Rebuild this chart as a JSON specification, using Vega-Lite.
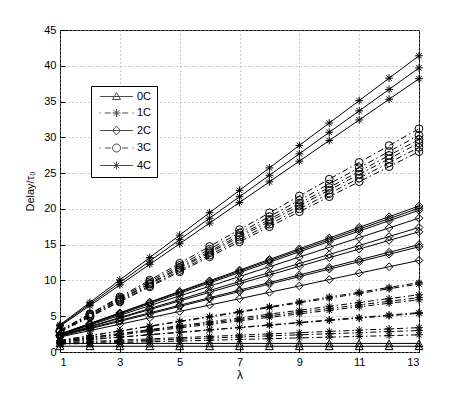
{
"$schema":"https://vega.github.io/schema/vega-lite/v6.json",
"width":359,"height":322,
"autosize":{"type":"none"},
"padding":{"left":60,"top":30,"right":44,"bottom":44},
"background":"white",
"config":{"view":{"stroke":"black","strokeWidth":1},"font":"Liberation Sans"},
"data":{"values":[
{"g":"0C","id":"0a","x":1,"y":1.2},{"g":"0C","id":"0a","x":2,"y":1.2},{"g":"0C","id":"0a","x":3,"y":1.2},{"g":"0C","id":"0a","x":4,"y":1.2},{"g":"0C","id":"0a","x":5,"y":1.2},{"g":"0C","id":"0a","x":6,"y":1.2},{"g":"0C","id":"0a","x":7,"y":1.2},{"g":"0C","id":"0a","x":8,"y":1.2},{"g":"0C","id":"0a","x":9,"y":1.2},{"g":"0C","id":"0a","x":10,"y":1.2},{"g":"0C","id":"0a","x":11,"y":1.2},{"g":"0C","id":"0a","x":12,"y":1.2},{"g":"0C","id":"0a","x":13,"y":1.2},
{"g":"0C","id":"0b","x":1,"y":0.8},{"g":"0C","id":"0b","x":2,"y":0.8},{"g":"0C","id":"0b","x":3,"y":0.8},{"g":"0C","id":"0b","x":4,"y":0.8},{"g":"0C","id":"0b","x":5,"y":0.8},{"g":"0C","id":"0b","x":6,"y":0.8},{"g":"0C","id":"0b","x":7,"y":0.8},{"g":"0C","id":"0b","x":8,"y":0.8},{"g":"0C","id":"0b","x":9,"y":0.8},{"g":"0C","id":"0b","x":10,"y":0.8},{"g":"0C","id":"0b","x":11,"y":0.8},{"g":"0C","id":"0b","x":12,"y":0.8},{"g":"0C","id":"0b","x":13,"y":0.8},
{"g":"1C","id":"1a","x":1,"y":1.6},{"g":"1C","id":"1a","x":2,"y":2.28},{"g":"1C","id":"1a","x":3,"y":2.95},{"g":"1C","id":"1a","x":4,"y":3.63},{"g":"1C","id":"1a","x":5,"y":4.3},{"g":"1C","id":"1a","x":6,"y":4.98},{"g":"1C","id":"1a","x":7,"y":5.65},{"g":"1C","id":"1a","x":8,"y":6.33},{"g":"1C","id":"1a","x":9,"y":7.0},{"g":"1C","id":"1a","x":10,"y":7.68},{"g":"1C","id":"1a","x":11,"y":8.35},{"g":"1C","id":"1a","x":12,"y":9.03},{"g":"1C","id":"1a","x":13,"y":9.7},
{"g":"1C","id":"1a2","x":1,"y":1.6},{"g":"1C","id":"1a2","x":2,"y":2.26},{"g":"1C","id":"1a2","x":3,"y":2.92},{"g":"1C","id":"1a2","x":4,"y":3.58},{"g":"1C","id":"1a2","x":5,"y":4.23},{"g":"1C","id":"1a2","x":6,"y":4.89},{"g":"1C","id":"1a2","x":7,"y":5.55},{"g":"1C","id":"1a2","x":8,"y":6.21},{"g":"1C","id":"1a2","x":9,"y":6.87},{"g":"1C","id":"1a2","x":10,"y":7.52},{"g":"1C","id":"1a2","x":11,"y":8.18},{"g":"1C","id":"1a2","x":12,"y":8.84},{"g":"1C","id":"1a2","x":13,"y":9.5},
{"g":"1C","id":"1b","x":1,"y":1.5},{"g":"1C","id":"1b","x":2,"y":2.04},{"g":"1C","id":"1b","x":3,"y":2.58},{"g":"1C","id":"1b","x":4,"y":3.13},{"g":"1C","id":"1b","x":5,"y":3.67},{"g":"1C","id":"1b","x":6,"y":4.21},{"g":"1C","id":"1b","x":7,"y":4.75},{"g":"1C","id":"1b","x":8,"y":5.29},{"g":"1C","id":"1b","x":9,"y":5.83},{"g":"1C","id":"1b","x":10,"y":6.38},{"g":"1C","id":"1b","x":11,"y":6.92},{"g":"1C","id":"1b","x":12,"y":7.46},{"g":"1C","id":"1b","x":13,"y":8.0},
{"g":"1C","id":"1c","x":1,"y":1.5},{"g":"1C","id":"1c","x":2,"y":2.01},{"g":"1C","id":"1c","x":3,"y":2.52},{"g":"1C","id":"1c","x":4,"y":3.03},{"g":"1C","id":"1c","x":5,"y":3.53},{"g":"1C","id":"1c","x":6,"y":4.04},{"g":"1C","id":"1c","x":7,"y":4.55},{"g":"1C","id":"1c","x":8,"y":5.06},{"g":"1C","id":"1c","x":9,"y":5.57},{"g":"1C","id":"1c","x":10,"y":6.08},{"g":"1C","id":"1c","x":11,"y":6.58},{"g":"1C","id":"1c","x":12,"y":7.09},{"g":"1C","id":"1c","x":13,"y":7.6},
{"g":"1C","id":"1d","x":1,"y":1.4},{"g":"1C","id":"1d","x":2,"y":1.89},{"g":"1C","id":"1d","x":3,"y":2.38},{"g":"1C","id":"1d","x":4,"y":2.88},{"g":"1C","id":"1d","x":5,"y":3.37},{"g":"1C","id":"1d","x":6,"y":3.86},{"g":"1C","id":"1d","x":7,"y":4.35},{"g":"1C","id":"1d","x":8,"y":4.84},{"g":"1C","id":"1d","x":9,"y":5.33},{"g":"1C","id":"1d","x":10,"y":5.83},{"g":"1C","id":"1d","x":11,"y":6.32},{"g":"1C","id":"1d","x":12,"y":6.81},{"g":"1C","id":"1d","x":13,"y":7.3},
{"g":"1C","id":"1e","x":1,"y":1.4},{"g":"1C","id":"1e","x":2,"y":1.74},{"g":"1C","id":"1e","x":3,"y":2.08},{"g":"1C","id":"1e","x":4,"y":2.43},{"g":"1C","id":"1e","x":5,"y":2.77},{"g":"1C","id":"1e","x":6,"y":3.11},{"g":"1C","id":"1e","x":7,"y":3.45},{"g":"1C","id":"1e","x":8,"y":3.79},{"g":"1C","id":"1e","x":9,"y":4.13},{"g":"1C","id":"1e","x":10,"y":4.48},{"g":"1C","id":"1e","x":11,"y":4.82},{"g":"1C","id":"1e","x":12,"y":5.16},{"g":"1C","id":"1e","x":13,"y":5.5},
{"g":"1C","id":"1e2","x":1,"y":1.4},{"g":"1C","id":"1e2","x":2,"y":1.73},{"g":"1C","id":"1e2","x":3,"y":2.07},{"g":"1C","id":"1e2","x":4,"y":2.4},{"g":"1C","id":"1e2","x":5,"y":2.73},{"g":"1C","id":"1e2","x":6,"y":3.07},{"g":"1C","id":"1e2","x":7,"y":3.4},{"g":"1C","id":"1e2","x":8,"y":3.73},{"g":"1C","id":"1e2","x":9,"y":4.07},{"g":"1C","id":"1e2","x":10,"y":4.4},{"g":"1C","id":"1e2","x":11,"y":4.73},{"g":"1C","id":"1e2","x":12,"y":5.07},{"g":"1C","id":"1e2","x":13,"y":5.4},
{"g":"1C","id":"1f","x":1,"y":1.3},{"g":"1C","id":"1f","x":2,"y":1.48},{"g":"1C","id":"1f","x":3,"y":1.65},{"g":"1C","id":"1f","x":4,"y":1.83},{"g":"1C","id":"1f","x":5,"y":2.0},{"g":"1C","id":"1f","x":6,"y":2.18},{"g":"1C","id":"1f","x":7,"y":2.35},{"g":"1C","id":"1f","x":8,"y":2.53},{"g":"1C","id":"1f","x":9,"y":2.7},{"g":"1C","id":"1f","x":10,"y":2.88},{"g":"1C","id":"1f","x":11,"y":3.05},{"g":"1C","id":"1f","x":12,"y":3.23},{"g":"1C","id":"1f","x":13,"y":3.4},
{"g":"1C","id":"1g","x":1,"y":1.2},{"g":"1C","id":"1g","x":2,"y":1.35},{"g":"1C","id":"1g","x":3,"y":1.5},{"g":"1C","id":"1g","x":4,"y":1.65},{"g":"1C","id":"1g","x":5,"y":1.8},{"g":"1C","id":"1g","x":6,"y":1.95},{"g":"1C","id":"1g","x":7,"y":2.1},{"g":"1C","id":"1g","x":8,"y":2.25},{"g":"1C","id":"1g","x":9,"y":2.4},{"g":"1C","id":"1g","x":10,"y":2.55},{"g":"1C","id":"1g","x":11,"y":2.7},{"g":"1C","id":"1g","x":12,"y":2.85},{"g":"1C","id":"1g","x":13,"y":3.0},
{"g":"1C","id":"1h","x":1,"y":1.1},{"g":"1C","id":"1h","x":2,"y":1.21},{"g":"1C","id":"1h","x":3,"y":1.32},{"g":"1C","id":"1h","x":4,"y":1.43},{"g":"1C","id":"1h","x":5,"y":1.53},{"g":"1C","id":"1h","x":6,"y":1.64},{"g":"1C","id":"1h","x":7,"y":1.75},{"g":"1C","id":"1h","x":8,"y":1.86},{"g":"1C","id":"1h","x":9,"y":1.97},{"g":"1C","id":"1h","x":10,"y":2.08},{"g":"1C","id":"1h","x":11,"y":2.18},{"g":"1C","id":"1h","x":12,"y":2.29},{"g":"1C","id":"1h","x":13,"y":2.4},
{"g":"2C","id":"2a","x":1,"y":2.5},{"g":"2C","id":"2a","x":2,"y":3.99},{"g":"2C","id":"2a","x":3,"y":5.48},{"g":"2C","id":"2a","x":4,"y":6.98},{"g":"2C","id":"2a","x":5,"y":8.47},{"g":"2C","id":"2a","x":6,"y":9.96},{"g":"2C","id":"2a","x":7,"y":11.45},{"g":"2C","id":"2a","x":8,"y":12.94},{"g":"2C","id":"2a","x":9,"y":14.43},{"g":"2C","id":"2a","x":10,"y":15.93},{"g":"2C","id":"2a","x":11,"y":17.42},{"g":"2C","id":"2a","x":12,"y":18.91},{"g":"2C","id":"2a","x":13,"y":20.4},
{"g":"2C","id":"2b","x":1,"y":2.5},{"g":"2C","id":"2b","x":2,"y":3.97},{"g":"2C","id":"2b","x":3,"y":5.43},{"g":"2C","id":"2b","x":4,"y":6.9},{"g":"2C","id":"2b","x":5,"y":8.37},{"g":"2C","id":"2b","x":6,"y":9.83},{"g":"2C","id":"2b","x":7,"y":11.3},{"g":"2C","id":"2b","x":8,"y":12.77},{"g":"2C","id":"2b","x":9,"y":14.23},{"g":"2C","id":"2b","x":10,"y":15.7},{"g":"2C","id":"2b","x":11,"y":17.17},{"g":"2C","id":"2b","x":12,"y":18.63},{"g":"2C","id":"2b","x":13,"y":20.1},
{"g":"2C","id":"2c","x":1,"y":2.4},{"g":"2C","id":"2c","x":2,"y":3.85},{"g":"2C","id":"2c","x":3,"y":5.3},{"g":"2C","id":"2c","x":4,"y":6.75},{"g":"2C","id":"2c","x":5,"y":8.2},{"g":"2C","id":"2c","x":6,"y":9.65},{"g":"2C","id":"2c","x":7,"y":11.1},{"g":"2C","id":"2c","x":8,"y":12.55},{"g":"2C","id":"2c","x":9,"y":14.0},{"g":"2C","id":"2c","x":10,"y":15.45},{"g":"2C","id":"2c","x":11,"y":16.9},{"g":"2C","id":"2c","x":12,"y":18.35},{"g":"2C","id":"2c","x":13,"y":19.8},
{"g":"2C","id":"2d","x":1,"y":2.4},{"g":"2C","id":"2d","x":2,"y":3.76},{"g":"2C","id":"2d","x":3,"y":5.12},{"g":"2C","id":"2d","x":4,"y":6.48},{"g":"2C","id":"2d","x":5,"y":7.83},{"g":"2C","id":"2d","x":6,"y":9.19},{"g":"2C","id":"2d","x":7,"y":10.55},{"g":"2C","id":"2d","x":8,"y":11.91},{"g":"2C","id":"2d","x":9,"y":13.27},{"g":"2C","id":"2d","x":10,"y":14.63},{"g":"2C","id":"2d","x":11,"y":15.98},{"g":"2C","id":"2d","x":12,"y":17.34},{"g":"2C","id":"2d","x":13,"y":18.7},
{"g":"2C","id":"2e","x":1,"y":2.3},{"g":"2C","id":"2e","x":2,"y":3.56},{"g":"2C","id":"2e","x":3,"y":4.82},{"g":"2C","id":"2e","x":4,"y":6.08},{"g":"2C","id":"2e","x":5,"y":7.33},{"g":"2C","id":"2e","x":6,"y":8.59},{"g":"2C","id":"2e","x":7,"y":9.85},{"g":"2C","id":"2e","x":8,"y":11.11},{"g":"2C","id":"2e","x":9,"y":12.37},{"g":"2C","id":"2e","x":10,"y":13.63},{"g":"2C","id":"2e","x":11,"y":14.88},{"g":"2C","id":"2e","x":12,"y":16.14},{"g":"2C","id":"2e","x":13,"y":17.4},
{"g":"2C","id":"2i","x":1,"y":2.3},{"g":"2C","id":"2i","x":2,"y":3.51},{"g":"2C","id":"2i","x":3,"y":4.72},{"g":"2C","id":"2i","x":4,"y":5.93},{"g":"2C","id":"2i","x":5,"y":7.13},{"g":"2C","id":"2i","x":6,"y":8.34},{"g":"2C","id":"2i","x":7,"y":9.55},{"g":"2C","id":"2i","x":8,"y":10.76},{"g":"2C","id":"2i","x":9,"y":11.97},{"g":"2C","id":"2i","x":10,"y":13.18},{"g":"2C","id":"2i","x":11,"y":14.38},{"g":"2C","id":"2i","x":12,"y":15.59},{"g":"2C","id":"2i","x":13,"y":16.8},
{"g":"2C","id":"2f","x":1,"y":2.3},{"g":"2C","id":"2f","x":2,"y":3.36},{"g":"2C","id":"2f","x":3,"y":4.42},{"g":"2C","id":"2f","x":4,"y":5.48},{"g":"2C","id":"2f","x":5,"y":6.53},{"g":"2C","id":"2f","x":6,"y":7.59},{"g":"2C","id":"2f","x":7,"y":8.65},{"g":"2C","id":"2f","x":8,"y":9.71},{"g":"2C","id":"2f","x":9,"y":10.77},{"g":"2C","id":"2f","x":10,"y":11.83},{"g":"2C","id":"2f","x":11,"y":12.88},{"g":"2C","id":"2f","x":12,"y":13.94},{"g":"2C","id":"2f","x":13,"y":15.0},
{"g":"2C","id":"2g","x":1,"y":2.2},{"g":"2C","id":"2g","x":2,"y":3.24},{"g":"2C","id":"2g","x":3,"y":4.28},{"g":"2C","id":"2g","x":4,"y":5.33},{"g":"2C","id":"2g","x":5,"y":6.37},{"g":"2C","id":"2g","x":6,"y":7.41},{"g":"2C","id":"2g","x":7,"y":8.45},{"g":"2C","id":"2g","x":8,"y":9.49},{"g":"2C","id":"2g","x":9,"y":10.53},{"g":"2C","id":"2g","x":10,"y":11.58},{"g":"2C","id":"2g","x":11,"y":12.62},{"g":"2C","id":"2g","x":12,"y":13.66},{"g":"2C","id":"2g","x":13,"y":14.7},
{"g":"2C","id":"2h","x":1,"y":2.1},{"g":"2C","id":"2h","x":2,"y":2.99},{"g":"2C","id":"2h","x":3,"y":3.88},{"g":"2C","id":"2h","x":4,"y":4.78},{"g":"2C","id":"2h","x":5,"y":5.67},{"g":"2C","id":"2h","x":6,"y":6.56},{"g":"2C","id":"2h","x":7,"y":7.45},{"g":"2C","id":"2h","x":8,"y":8.34},{"g":"2C","id":"2h","x":9,"y":9.23},{"g":"2C","id":"2h","x":10,"y":10.13},{"g":"2C","id":"2h","x":11,"y":11.02},{"g":"2C","id":"2h","x":12,"y":11.91},{"g":"2C","id":"2h","x":13,"y":12.8},
{"g":"3C","id":"3a","x":1,"y":3.0},{"g":"3C","id":"3a","x":2,"y":5.35},{"g":"3C","id":"3a","x":3,"y":7.7},{"g":"3C","id":"3a","x":4,"y":10.05},{"g":"3C","id":"3a","x":5,"y":12.4},{"g":"3C","id":"3a","x":6,"y":14.75},{"g":"3C","id":"3a","x":7,"y":17.1},{"g":"3C","id":"3a","x":8,"y":19.45},{"g":"3C","id":"3a","x":9,"y":21.8},{"g":"3C","id":"3a","x":10,"y":24.15},{"g":"3C","id":"3a","x":11,"y":26.5},{"g":"3C","id":"3a","x":12,"y":28.85},{"g":"3C","id":"3a","x":13,"y":31.2},
{"g":"3C","id":"3b","x":1,"y":3.0},{"g":"3C","id":"3b","x":2,"y":5.28},{"g":"3C","id":"3b","x":3,"y":7.55},{"g":"3C","id":"3b","x":4,"y":9.83},{"g":"3C","id":"3b","x":5,"y":12.1},{"g":"3C","id":"3b","x":6,"y":14.38},{"g":"3C","id":"3b","x":7,"y":16.65},{"g":"3C","id":"3b","x":8,"y":18.93},{"g":"3C","id":"3b","x":9,"y":21.2},{"g":"3C","id":"3b","x":10,"y":23.48},{"g":"3C","id":"3b","x":11,"y":25.75},{"g":"3C","id":"3b","x":12,"y":28.03},{"g":"3C","id":"3b","x":13,"y":30.3},
{"g":"3C","id":"3c","x":1,"y":2.9},{"g":"3C","id":"3c","x":2,"y":5.13},{"g":"3C","id":"3c","x":3,"y":7.37},{"g":"3C","id":"3c","x":4,"y":9.6},{"g":"3C","id":"3c","x":5,"y":11.83},{"g":"3C","id":"3c","x":6,"y":14.07},{"g":"3C","id":"3c","x":7,"y":16.3},{"g":"3C","id":"3c","x":8,"y":18.53},{"g":"3C","id":"3c","x":9,"y":20.77},{"g":"3C","id":"3c","x":10,"y":23.0},{"g":"3C","id":"3c","x":11,"y":25.23},{"g":"3C","id":"3c","x":12,"y":27.47},{"g":"3C","id":"3c","x":13,"y":29.7},
{"g":"3C","id":"3d","x":1,"y":2.9},{"g":"3C","id":"3d","x":2,"y":5.09},{"g":"3C","id":"3d","x":3,"y":7.28},{"g":"3C","id":"3d","x":4,"y":9.48},{"g":"3C","id":"3d","x":5,"y":11.67},{"g":"3C","id":"3d","x":6,"y":13.86},{"g":"3C","id":"3d","x":7,"y":16.05},{"g":"3C","id":"3d","x":8,"y":18.24},{"g":"3C","id":"3d","x":9,"y":20.43},{"g":"3C","id":"3d","x":10,"y":22.63},{"g":"3C","id":"3d","x":11,"y":24.82},{"g":"3C","id":"3d","x":12,"y":27.01},{"g":"3C","id":"3d","x":13,"y":29.2},
{"g":"3C","id":"3e","x":1,"y":2.8},{"g":"3C","id":"3e","x":2,"y":4.95},{"g":"3C","id":"3e","x":3,"y":7.1},{"g":"3C","id":"3e","x":4,"y":9.25},{"g":"3C","id":"3e","x":5,"y":11.4},{"g":"3C","id":"3e","x":6,"y":13.55},{"g":"3C","id":"3e","x":7,"y":15.7},{"g":"3C","id":"3e","x":8,"y":17.85},{"g":"3C","id":"3e","x":9,"y":20.0},{"g":"3C","id":"3e","x":10,"y":22.15},{"g":"3C","id":"3e","x":11,"y":24.3},{"g":"3C","id":"3e","x":12,"y":26.45},{"g":"3C","id":"3e","x":13,"y":28.6},
{"g":"3C","id":"3f","x":1,"y":2.8},{"g":"3C","id":"3f","x":2,"y":4.9},{"g":"3C","id":"3f","x":3,"y":7.0},{"g":"3C","id":"3f","x":4,"y":9.1},{"g":"3C","id":"3f","x":5,"y":11.2},{"g":"3C","id":"3f","x":6,"y":13.3},{"g":"3C","id":"3f","x":7,"y":15.4},{"g":"3C","id":"3f","x":8,"y":17.5},{"g":"3C","id":"3f","x":9,"y":19.6},{"g":"3C","id":"3f","x":10,"y":21.7},{"g":"3C","id":"3f","x":11,"y":23.8},{"g":"3C","id":"3f","x":12,"y":25.9},{"g":"3C","id":"3f","x":13,"y":28.0},
{"g":"4C","id":"4a","x":1,"y":3.8},{"g":"4C","id":"4a","x":2,"y":6.93},{"g":"4C","id":"4a","x":3,"y":10.07},{"g":"4C","id":"4a","x":4,"y":13.2},{"g":"4C","id":"4a","x":5,"y":16.33},{"g":"4C","id":"4a","x":6,"y":19.47},{"g":"4C","id":"4a","x":7,"y":22.6},{"g":"4C","id":"4a","x":8,"y":25.73},{"g":"4C","id":"4a","x":9,"y":28.87},{"g":"4C","id":"4a","x":10,"y":32.0},{"g":"4C","id":"4a","x":11,"y":35.13},{"g":"4C","id":"4a","x":12,"y":38.27},{"g":"4C","id":"4a","x":13,"y":41.4},
{"g":"4C","id":"4b","x":1,"y":3.7},{"g":"4C","id":"4b","x":2,"y":6.7},{"g":"4C","id":"4b","x":3,"y":9.7},{"g":"4C","id":"4b","x":4,"y":12.7},{"g":"4C","id":"4b","x":5,"y":15.7},{"g":"4C","id":"4b","x":6,"y":18.7},{"g":"4C","id":"4b","x":7,"y":21.7},{"g":"4C","id":"4b","x":8,"y":24.7},{"g":"4C","id":"4b","x":9,"y":27.7},{"g":"4C","id":"4b","x":10,"y":30.7},{"g":"4C","id":"4b","x":11,"y":33.7},{"g":"4C","id":"4b","x":12,"y":36.7},{"g":"4C","id":"4b","x":13,"y":39.7},
{"g":"4C","id":"4c","x":1,"y":3.6},{"g":"4C","id":"4c","x":2,"y":6.48},{"g":"4C","id":"4c","x":3,"y":9.37},{"g":"4C","id":"4c","x":4,"y":12.25},{"g":"4C","id":"4c","x":5,"y":15.13},{"g":"4C","id":"4c","x":6,"y":18.02},{"g":"4C","id":"4c","x":7,"y":20.9},{"g":"4C","id":"4c","x":8,"y":23.78},{"g":"4C","id":"4c","x":9,"y":26.67},{"g":"4C","id":"4c","x":10,"y":29.55},{"g":"4C","id":"4c","x":11,"y":32.43},{"g":"4C","id":"4c","x":12,"y":35.32},{"g":"4C","id":"4c","x":13,"y":38.2}
]},
"encoding":{
 "x":{"field":"x","type":"quantitative","scale":{"domain":[1,13],"nice":false,"zero":false},
  "axis":{"title":"λ","values":[1,3,5,7,9,11,13],"grid":true,"gridDash":[1,3],"gridColor":"#9a9a9a","domain":false,"tickSize":-5,"tickColor":"black","labelPadding":9,"labelFontSize":11,"labelColor":"black","labelFont":"Liberation Sans","titleFont":"Liberation Sans","titleFontSize":12,"titleFontWeight":"normal","titleColor":"black","titlePadding":2}},
 "y":{"field":"y","type":"quantitative","scale":{"domain":[0,45],"nice":false},
  "axis":{"title":"Delay/τ₀","values":[0,5,10,15,20,25,30,35,40,45],"grid":true,"gridDash":[1,3],"gridColor":"#9a9a9a","domain":false,"tickSize":-5,"tickColor":"black","labelPadding":9,"labelFontSize":11,"labelColor":"black","labelFont":"Liberation Sans","titleFont":"Liberation Sans","titleFontSize":11,"titleFontWeight":"normal","titleColor":"black","titlePadding":8}}
},
"resolve":{"scale":{"shape":"independent"}},
"layer":[
 {"transform":[{"filter":"datum.g === '0C' || datum.g === '2C' || datum.g === '4C'"}],
  "mark":{"type":"line","color":"black","strokeWidth":1},
  "encoding":{"detail":{"field":"id"}}},
 {"transform":[{"filter":"datum.g === '1C' || datum.g === '3C'"}],
  "mark":{"type":"line","color":"black","strokeWidth":1,"strokeDash":[6,3,1.5,3]},
  "encoding":{"detail":{"field":"id"}}},
 {"mark":{"type":"point","filled":false,"color":"black","strokeWidth":1,"size":60,"opacity":1},
  "encoding":{"shape":{"field":"g","type":"nominal",
   "scale":{"domain":["0C","1C","2C","3C","4C"],"range":["triangle-up","M-1,0H1M0,-1V1M-0.7,-0.7L0.7,0.7M-0.7,0.7L0.7,-0.7","diamond","circle","M-1,0H1M0,-1V1M-0.7,-0.7L0.7,0.7M-0.7,0.7L0.7,-0.7"]},
   "legend":null}}},
 {"mark":{"type":"point","filled":false,"color":"black","strokeWidth":1,"size":0},
  "encoding":{"shape":{"field":"g","type":"nominal",
   "scale":{"domain":["0C","1C","2C","3C","4C"],"range":["M-4.1,0H4.1M0,-1L1,0.75L-1,0.75Z","M-4.3,0H-4M-2.9,0H-1.4M1.4,0H2.9M4,0H4.3M-1,0H1M0,-1V1M-0.7,-0.7L0.7,0.7M-0.7,0.7L0.7,-0.7","M-4.1,0H4.1M0,-1.1L1,0L0,1.1L-1,0Z","M-4.3,0H-4M-2.9,0H-1.4M1.4,0H2.9M4,0H4.3M1,0A1,1 0 1,1 -1,0A1,1 0 1,1 1,0","M-4.1,0H4.1M-1,0H1M0,-1V1M-0.7,-0.7L0.7,0.7M-0.7,0.7L0.7,-0.7"]},
   "legend":{"title":null,"orient":"none","legendX":31,"legendY":56,"padding":5,"strokeColor":"black","fillColor":"white","cornerRadius":0,"rowPadding":4.5,"symbolSize":64,"symbolOffset":15,"labelOffset":15,"labelFontSize":11,"labelFont":"Liberation Sans","labelColor":"black","symbolStrokeWidth":1,"symbolStrokeColor":"black","symbolFillColor":"transparent"}}}}
]
}
